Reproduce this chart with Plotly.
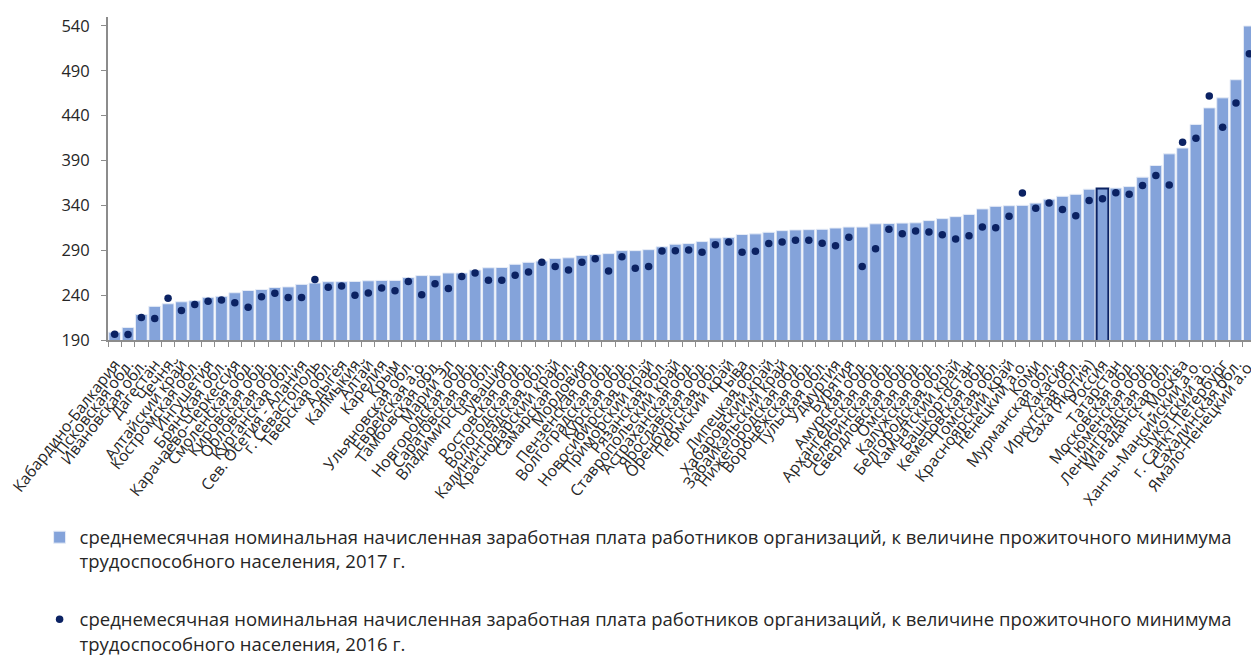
import plotly.graph_objects as go

regions = [
    "Кабардино-Балкария", "Псковская обл.", "Ивановская обл.", "Дагестан", "Чечня",
    "Алтайский край", "Костромская обл.", "Ингушетия", "Брянская обл.", "Карачаево-Черкессия",
    "Смоленская обл.", "Кировская обл.", "Орловская обл.", "Курганская обл.", "Сев. Осетия - Алания",
    "г. Севастополь", "Тверская обл.", "Адыгея", "Калмыкия", "Алтай",
    "Карелия", "Крым", "Ульяновская обл.", "Еврейская а.о.", "Тамбовская обл.",
    "Марий Эл", "Новгородская обл.", "Саратовская обл.", "Владимирская обл.", "Чувашия",
    "Ростовская обл.", "Вологодская обл.", "Калининградская обл.", "Краснодарский край", "Самарская обл.",
    "Мордовия", "Пензенская обл.", "Волгоградская обл.", "Курская обл.", "Новосибирская обл.",
    "Приморский край", "Рязанская обл.", "Ставропольский край", "Астраханская обл.", "Ярославская обл.",
    "Оренбургская обл.", "Пермский край", "Тыва", "Липецкая обл.", "Хабаровский край",
    "Забайкальский край", "Нижегородская обл.", "Воронежская обл.", "Тульская обл.", "Удмуртия",
    "Бурятия", "Амурская обл.", "Архангельская обл.", "Челябинская обл.", "Свердловская обл.",
    "Омская обл.", "Калужская обл.", "Белгородская обл.", "Камчатский край", "Башкортостан",
    "Кемеровская обл.", "Томская обл.", "Красноярский край", "Ненецкий а.о.", "Коми",
    "Мурманская обл.", "Хакасия", "Иркутская обл.", "Саха (Якутия)", "Россия",
    "Татарстан", "Московская обл.", "Тюменская обл.", "Ленинградская обл.", "Магаданская обл.",
    "г. Москва", "Ханты-Мансийский а.о.", "Чукотский а.о.", "г. Санкт-Петербург", "Сахалинская обл.",
    "Ямало-Ненецкий а.о.",
]

values_2017 = [
    198.7, 204.0, 218.5, 227.5, 230.4, 232.6, 233.7, 237.6, 238.7, 242.7,
    245.2, 246.3, 248.5, 249.2, 252.0, 253.5, 255.0, 255.0, 255.3, 256.0,
    256.4, 256.4, 259.6, 261.8, 261.8, 264.7, 264.7, 268.0, 270.5, 270.8,
    274.4, 276.6, 278.0, 280.9, 281.6, 284.2, 285.3, 286.3, 289.6, 289.6,
    290.7, 293.9, 296.8, 297.5, 299.7, 303.7, 304.4, 307.6, 308.3, 310.1,
    311.9, 312.7, 313.0, 313.4, 314.8, 315.9, 315.9, 319.5, 319.9, 320.3,
    320.6, 323.1, 325.3, 327.5, 330.0, 336.1, 339.0, 339.7, 340.1, 342.6,
    347.0, 350.2, 352.4, 358.1, 358.9, 359.3, 361.0, 371.5, 384.5, 397.5,
    404.0, 430.3, 448.7, 459.9, 480.1, 540.0,
]

values_2016 = [
    196.5, 196.0, 215.0, 214.0, 236.5, 223.0, 229.7, 233.3, 234.7, 231.5,
    226.4, 238.3, 242.0, 237.3, 237.3, 257.5, 248.8, 250.3, 240.0, 242.3,
    248.0, 244.8, 255.3, 240.5, 252.8, 247.4, 260.7, 264.7, 256.7, 256.7,
    262.2, 265.8, 276.6, 271.9, 268.0, 276.6, 280.6, 266.9, 282.7, 270.1,
    271.9, 289.2, 289.6, 290.3, 287.8, 296.1, 299.3, 287.8, 288.9, 297.5,
    299.3, 301.1, 301.1, 297.9, 295.0, 304.4, 271.9, 291.7, 313.4, 308.3,
    311.6, 310.5, 307.3, 302.6, 306.2, 315.9, 315.2, 327.8, 353.8, 336.8,
    342.6, 335.4, 328.5, 345.5, 347.3, 354.2, 352.4, 362.1, 373.3, 362.8,
    410.5, 414.8, 462.0, 427.0, 454.1, 509.0,
]

y_ticks = [190, 240, 290, 340, 390, 440, 490, 540]

name_2017 = ("среднемесячная номинальная начисленная заработная плата работников организаций, "
             "к величине прожиточного минимума<br>трудоспособного населения, 2017 г.")
name_2016 = ("среднемесячная номинальная начисленная заработная плата работников организаций, "
             "к величине прожиточного минимума<br>трудоспособного населения, 2016 г.")

BAR = "#84A3DA"
DOT = "#0B2263"
highlight = "Россия"

line_colors = [DOT if r == highlight else "#E6ECF7" for r in regions]
line_widths = [2 if r == highlight else 1 for r in regions]

fig = go.Figure()
fig.add_trace(go.Bar(
    x=regions, y=values_2017, name=name_2017, legendgroup="a",
    marker=dict(color=BAR, line=dict(color=line_colors, width=line_widths)),
))
fig.add_trace(go.Scatter(
    x=regions, y=values_2016, name=name_2016, legendgroup="b", mode="markers",
    marker=dict(color=DOT, size=7.5),
))

fig.update_layout(
    width=1251, height=658,
    margin=dict(l=100, r=3, t=9, b=317),
    plot_bgcolor="white", paper_bgcolor="white",
    bargap=0.12,
    font=dict(family="Open Sans, Noto Sans, sans-serif", color="#262626"),
    showlegend=True,
    legend=dict(
        x=-0.0596, xanchor="left", y=-0.553, yanchor="top",
        orientation="v", valign="top", tracegroupgap=31,
        font=dict(size=18.5, color="#262626"),
    ),
    xaxis=dict(
        type="category", range=[-0.5, len(regions) - 0.5], automargin=False,
        tickmode="array", tickvals=regions, ticktext=regions, tickangle=-52,
        showline=True, linecolor="#8C8C8C", linewidth=2,
        ticks="outside", tickson="boundaries", ticklen=5, tickcolor="#8C8C8C",
        ticklabelstandoff=7,
        tickfont=dict(size=15.8, color="#262626"), showgrid=False,
    ),
    yaxis=dict(
        range=[190, 550], tickvals=y_ticks, automargin=False,
        showline=True, linecolor="#8C8C8C", linewidth=2,
        ticks="outside", ticklen=5, tickcolor="#8C8C8C", ticklabelstandoff=8,
        tickfont=dict(size=16.5, color="#262626"), showgrid=False, zeroline=False,
    ),
)

fig.write_html("out.html")
